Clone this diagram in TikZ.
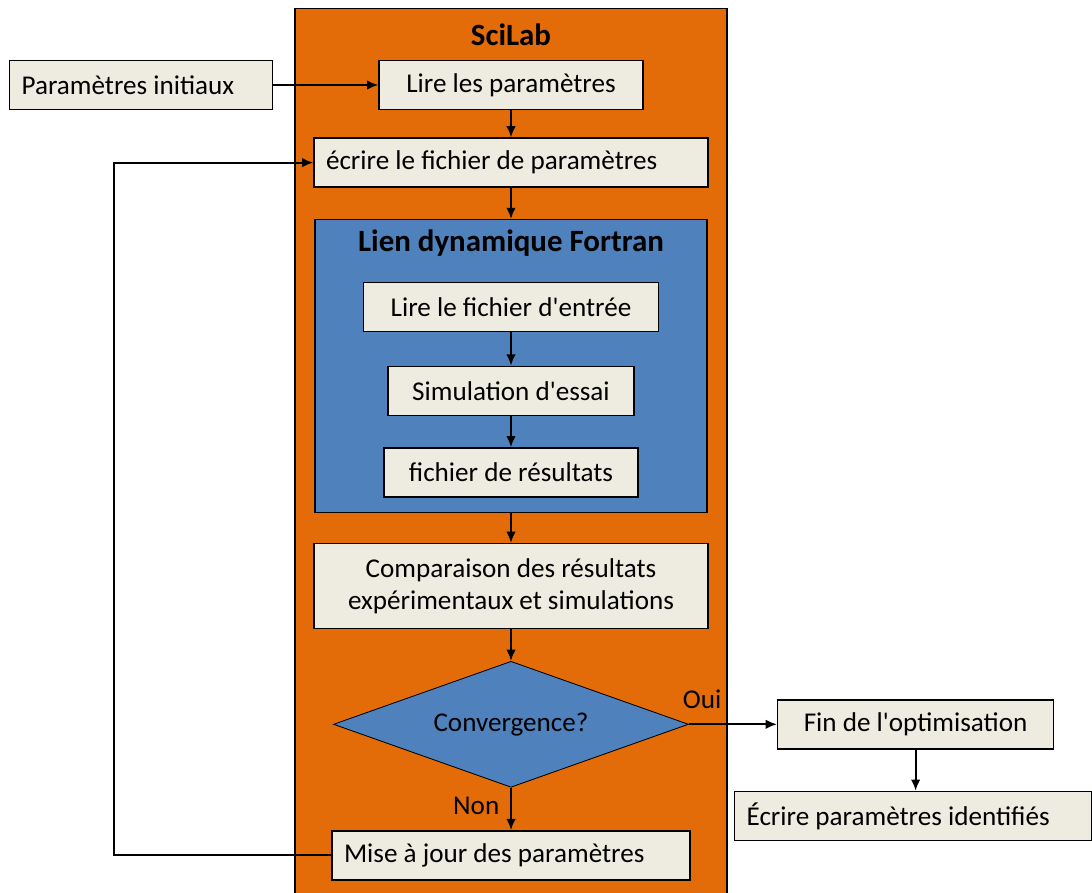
\documentclass[tikz,border=0pt]{standalone}
\usepackage{fontspec}
\setmainfont{Carlito}
\usetikzlibrary{arrows.meta, positioning, shapes.geometric}
\definecolor{scilabor}{HTML}{E36C09}
\definecolor{fortblue}{HTML}{4F81BD}
\definecolor{boxgray}{HTML}{EEECE1}
\newcommand{\apo}{\textquotesingle}

\begin{document}
\begin{tikzpicture}[
    >={Latex[length=2.8mm, width=2.4mm]},
    every node/.style={font=\fontsize{19.3}{23}\selectfont},
    node distance = 7mm and 22mm,
    box/.style  ={draw, line width=1pt, fill=boxgray, align=center,
                  inner sep=2pt, minimum height=12.25mm},
    boxl/.style ={box, align=flush left, inner xsep=3mm},
    frame/.style={draw, line width=0.9pt, inner sep=0pt},
    title/.style={font=\fontsize{22}{26}\selectfont\bfseries},
    test/.style ={draw, diamond, aspect=2.8, line width=0.6pt, fill=fortblue,
                  inner sep=0pt, minimum width=88.75mm, minimum height=31.5mm},
    flow/.style ={->, line width=1.5pt},
]
\useasboundingbox (0,0) rectangle (27.3,-22.325);
% SciLab frame
\node[frame, fill=scilabor, minimum width=108mm, minimum height=221.25mm,
      anchor=north] (scilab) at (12.775,-0.2) {};
\node[title] (stitle) at (12.775,-0.875) {SciLab};
\node[box, minimum width=66mm] (lire) at (12.775,-2.125) {Lire les paramètres};
\node[boxl, text width=59.75mm, left=26.25mm of lire] (init) {Paramètres initiaux};
\node[boxl, text width=92.5mm, below=6.8mm of lire] (ecrire) {écrire le fichier de paramètres};
% Fortran frame
\node[frame, fill=fortblue, minimum width=98mm, minimum height=73.25mm,
      below=7.8mm of ecrire] (fortran) {};
\node[title] (ftitle) at ([yshift=-6mm]fortran.north) {Lien dynamique Fortran};
\node[box, minimum width=73.75mm, below=15.75mm of fortran.north] (entree) {Lire le fichier d\apo entrée};
\node[box, minimum width=61.5mm, below=8.3mm of entree] (simu) {Simulation d\apo essai};
\node[box, minimum width=63.5mm, below=7.8mm of simu] (result) {fichier de résultats};
\node[box, minimum width=98.5mm, minimum height=21.25mm, below=7.4mm of fortran] (compar)
   {Comparaison des résultats\\ expérimentaux et simulations};
\node[test, below=7.9mm of compar] (conv) {Convergence?};
\node[boxl, text width=83.5mm, below=10.6mm of conv] (maj) {Mise à jour des paramètres};
\node[box, minimum width=69mm, right=of conv] (fin) {Fin de l\apo optimisation};
\node[boxl, text width=83.25mm, below=10.3mm of fin, xshift=-0.625mm] (ident)
   {Écrire paramètres identifiés};
\draw[flow] (init) -- (lire);
\draw[flow] (lire) -- (ecrire);
\draw[flow] (ecrire) -- (fortran);
\draw[flow] (entree) -- (simu);
\draw[flow] (simu) -- (result);
\draw[flow] (fortran) -- (compar);
\draw[flow] (compar) -- (conv);
\draw[flow] (conv) -- node[pos=0.15, above=2.5mm]{Oui} (fin);
\draw[flow] (conv) -- node[pos=0.42, left=1.5mm]{Non} (maj);
\draw[flow] (fin) -- (fin |- ident.north);
% loop-back to the parameter file
\draw[flow] (maj.west) -- ++(-54.25mm,0) |- (ecrire.west);
\end{tikzpicture}
\end{document}
